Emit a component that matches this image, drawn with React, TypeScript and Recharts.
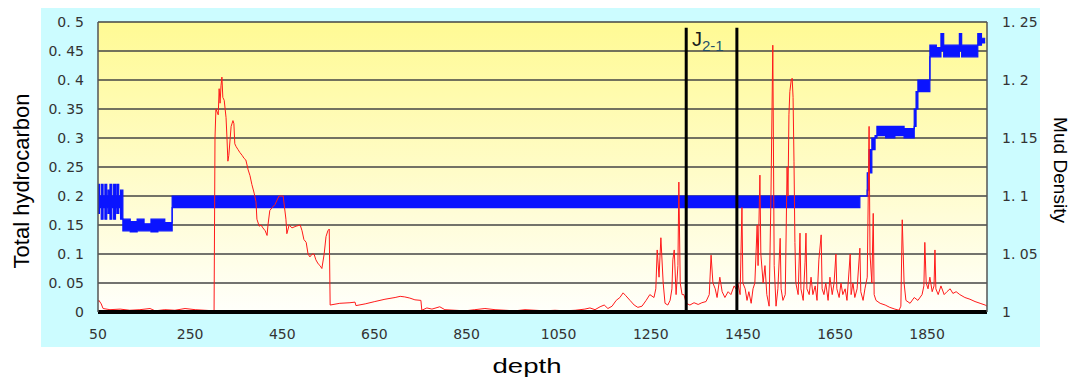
import { ComposedChart, Line, Area, XAxis, YAxis, CartesianGrid, ReferenceLine } from 'recharts';

// depth axis
const depthTicks = [50, 250, 450, 650, 850, 1050, 1250, 1450, 1650, 1850];
const hcTicks = [0, 0.05, 0.1, 0.15, 0.2, 0.25, 0.3, 0.35, 0.4, 0.45, 0.5];
const mdTicks = [1, 1.05, 1.1, 1.15, 1.2, 1.25];

// J2-1 formation boundaries (depth)
const boundaryDepths = [1327, 1437];

// total hydrocarbon readings: [depth, value]
const hydrocarbon: [number, number][] = [
  [50, 0.018], [52, 0.02], [57, 0.014], [61, 0.006], [76, 0.004], [98, 0.005], [119, 0.003], [141, 0.004],
  [163, 0.006], [174, 0.002], [195, 0.004], [217, 0.003], [239, 0.006], [261, 0.004], [282, 0.003], [302, 0.002],
  [304, 0.3], [306, 0.35], [311, 0.34], [313, 0.385], [315, 0.36], [317, 0.39], [319, 0.405], [321, 0.37],
  [324, 0.365], [326, 0.35], [328, 0.335], [330, 0.3], [332, 0.26], [334, 0.27], [337, 0.3], [339, 0.32],
  [343, 0.33], [345, 0.325], [347, 0.29], [350, 0.285], [354, 0.28], [358, 0.275], [363, 0.27], [367, 0.265],
  [371, 0.262], [376, 0.245], [380, 0.235], [384, 0.22], [389, 0.205], [393, 0.19], [395, 0.16], [400, 0.148],
  [404, 0.15], [408, 0.145], [413, 0.14], [417, 0.132], [419, 0.15], [423, 0.175], [428, 0.18], [434, 0.185],
  [443, 0.2], [452, 0.2], [458, 0.16], [460, 0.135], [465, 0.15], [471, 0.145], [480, 0.148], [489, 0.15],
  [493, 0.14], [497, 0.125], [502, 0.12], [506, 0.1], [510, 0.095], [515, 0.1], [519, 0.1], [523, 0.09],
  [528, 0.083], [532, 0.08], [536, 0.075], [541, 0.1], [545, 0.13], [549, 0.14], [552, 0.143],
  [554, 0.012], [575, 0.015], [597, 0.016], [608, 0.017], [610, 0.011], [630, 0.014], [651, 0.018], [673, 0.022],
  [695, 0.025], [706, 0.027], [716, 0.026], [727, 0.024], [738, 0.021], [751, 0.02], [753, 0.003], [764, 0.007],
  [775, 0.005], [792, 0.009], [803, 0.004], [825, 0.003], [847, 0.002], [868, 0.004], [890, 0.006], [912, 0.004],
  [934, 0.003], [955, 0.002], [977, 0.004], [999, 0.003], [1020, 0.002], [1042, 0.003], [1064, 0.002], [1086, 0.003],
  [1107, 0.005], [1118, 0.007], [1129, 0.004], [1140, 0.009], [1149, 0.012], [1157, 0.006], [1166, 0.01], [1175, 0.02],
  [1183, 0.025], [1190, 0.033], [1196, 0.028], [1205, 0.02], [1214, 0.012], [1222, 0.008], [1231, 0.01], [1240, 0.02],
  [1248, 0.03], [1257, 0.025], [1261, 0.04], [1264, 0.107], [1268, 0.06], [1272, 0.128], [1277, 0.05], [1281, 0.015],
  [1287, 0.012], [1292, 0.02], [1296, 0.04], [1298, 0.09], [1301, 0.107], [1305, 0.03], [1309, 0.08], [1311, 0.224],
  [1314, 0.05], [1318, 0.03], [1322, 0.03], [1327, 0.015], [1335, 0.012], [1344, 0.016], [1353, 0.013], [1361, 0.016],
  [1370, 0.018], [1377, 0.03], [1381, 0.098], [1385, 0.05], [1390, 0.04], [1394, 0.025], [1400, 0.06], [1405, 0.035],
  [1411, 0.025], [1418, 0.035], [1424, 0.03], [1431, 0.045], [1435, 0.04], [1439, 0.05], [1444, 0.03], [1448, 0.18],
  [1450, 0.05], [1455, 0.04], [1459, 0.02], [1463, 0.035], [1468, 0.015], [1472, 0.04], [1476, 0.05], [1481, 0.15],
  [1483, 0.08], [1487, 0.236], [1489, 0.1], [1494, 0.05], [1498, 0.08], [1502, 0.03], [1507, 0.01], [1511, 0.2],
  [1515, 0.46], [1518, 0.08], [1522, 0.01], [1526, 0.04], [1531, 0.127], [1533, 0.04], [1537, 0.02], [1542, 0.03],
  [1546, 0.25], [1548, 0.2], [1550, 0.34], [1552, 0.38], [1555, 0.4], [1557, 0.403], [1559, 0.37], [1561, 0.26],
  [1563, 0.12], [1565, 0.05], [1570, 0.03], [1574, 0.136], [1576, 0.04], [1581, 0.02], [1585, 0.086], [1587, 0.136],
  [1589, 0.04], [1594, 0.03], [1598, 0.06], [1602, 0.03], [1607, 0.045], [1611, 0.02], [1615, 0.09], [1620, 0.133],
  [1622, 0.04], [1626, 0.03], [1630, 0.05], [1635, 0.02], [1639, 0.06], [1644, 0.03], [1648, 0.05], [1652, 0.1],
  [1654, 0.04], [1659, 0.025], [1663, 0.05], [1667, 0.03], [1672, 0.04], [1676, 0.02], [1683, 0.1], [1685, 0.03],
  [1689, 0.05], [1693, 0.025], [1698, 0.04], [1704, 0.11], [1706, 0.035], [1711, 0.02], [1715, 0.04], [1720, 0.06],
  [1724, 0.32], [1726, 0.1], [1730, 0.05], [1733, 0.17], [1735, 0.03], [1739, 0.02], [1748, 0.015], [1759, 0.012],
  [1769, 0.008], [1780, 0.005], [1789, 0.003], [1793, 0.01], [1796, 0.159], [1800, 0.05], [1804, 0.02], [1813, 0.015],
  [1822, 0.025], [1830, 0.02], [1839, 0.03], [1843, 0.045], [1845, 0.12], [1848, 0.05], [1852, 0.04], [1856, 0.06],
  [1861, 0.035], [1865, 0.045], [1867, 0.107], [1869, 0.04], [1874, 0.03], [1880, 0.045], [1887, 0.03], [1893, 0.035],
  [1900, 0.04], [1906, 0.032], [1913, 0.035], [1921, 0.03], [1932, 0.025], [1943, 0.022], [1954, 0.018], [1965, 0.015],
  [1976, 0.012], [1980, 0.01],
];

// mud density band: [depth, low, high]
const mudDensity: [number, number, number][] = [
  [50, 1.085, 1.11], [53, 1.09, 1.1], [57, 1.08, 1.11], [61, 1.09, 1.1], [65, 1.08, 1.11], [69, 1.09, 1.1],
  [72, 1.085, 1.105], [76, 1.08, 1.11], [80, 1.09, 1.1], [84, 1.08, 1.11], [88, 1.09, 1.1], [91, 1.085, 1.11],
  [95, 1.09, 1.1], [99, 1.08, 1.105], [104, 1.07, 1.08], [120, 1.069, 1.078], [135, 1.07, 1.08], [150, 1.07, 1.076],
  [165, 1.069, 1.08], [180, 1.07, 1.08], [195, 1.07, 1.077], [211, 1.09, 1.1], [600, 1.09, 1.1], [1000, 1.09, 1.1],
  [1400, 1.09, 1.1], [1704, 1.1, 1.1], [1720, 1.105, 1.12], [1724, 1.12, 1.14], [1730, 1.14, 1.15], [1737, 1.15, 1.152],
  [1741, 1.152, 1.16], [1760, 1.15, 1.16], [1780, 1.152, 1.16], [1800, 1.15, 1.158], [1822, 1.16, 1.175],
  [1826, 1.175, 1.19], [1830, 1.19, 1.2], [1856, 1.22, 1.23], [1870, 1.22, 1.228], [1880, 1.225, 1.24],
  [1886, 1.22, 1.23], [1920, 1.225, 1.24], [1925, 1.22, 1.23], [1960, 1.23, 1.24], [1968, 1.232, 1.236],
  [1976, 1.232, 1.236],
];

const hcData = hydrocarbon.map(([depth, value]) => ({ depth, value }));
const mdData = mudDensity.map(([depth, lo, hi]) => ({ depth, range: [lo, hi] }));

const fmt = (v: number) => String(v).replace('.', '. ');
const tickStyle = { fontFamily: 'DejaVu Sans', fontSize: 14, fill: '#333' };

export default function App() {
  return (
    <div style={{ position: 'absolute', left: 0, top: 0, width: 1072, height: 379, background: '#fff', overflow: 'hidden' }}>
      <div style={{ position: 'absolute', left: 41, top: 8, width: 999, height: 339, background: '#ccfcff' }} />
      <ComposedChart
        width={1072}
        height={379}
        margin={{ top: 22, right: 0, bottom: 0, left: 0 }}
        style={{ position: 'absolute', left: 0, top: 0 }}
      >
        <defs>
          <linearGradient id="plotBg" x1="0" y1="0" x2="0" y2="1">
            <stop offset="0%" stopColor="#fffa94" />
            <stop offset="50%" stopColor="#fffcc6" />
            <stop offset="100%" stopColor="#fffffb" />
          </linearGradient>
        </defs>
        <CartesianGrid
          yAxisId="hc"
          vertical={false}
          stroke="#444"
          strokeWidth={1.5}
          fill="url(#plotBg)"
          fillOpacity={1}
        />
        <XAxis
          dataKey="depth"
          type="number"
          domain={[50, 1980]}
          ticks={depthTicks}
          allowDataOverflow
          height={67}
          axisLine={{ stroke: '#000', strokeWidth: 4 }}
          tickLine={false}
          tickSize={0}
          tickMargin={17}
          tick={tickStyle}
        />
        <YAxis
          yAxisId="hc"
          orientation="left"
          width={98}
          domain={[0, 0.5]}
          ticks={hcTicks}
          tickFormatter={fmt}
          axisLine={{ stroke: '#555', strokeWidth: 1.5 }}
          tickLine={false}
          tickSize={0}
          tickMargin={14}
          tick={tickStyle}
        />
        <YAxis
          yAxisId="md"
          orientation="right"
          width={85}
          domain={[1, 1.25]}
          ticks={mdTicks}
          tickFormatter={fmt}
          axisLine={{ stroke: '#555', strokeWidth: 1.5 }}
          tickLine={false}
          tickSize={0}
          tickMargin={15}
          tick={{ ...tickStyle, textAnchor: 'start' }}
        />
        <Area
          yAxisId="md"
          data={mdData}
          dataKey="range"
          type="stepAfter"
          stroke="#0a14ff"
          strokeWidth={1.2}
          fill="#0a14ff"
          fillOpacity={1}
          isAnimationActive={false}
          dot={false}
          activeDot={false}
        />
        <Line
          yAxisId="hc"
          data={hcData}
          dataKey="value"
          type="linear"
          stroke="#ff1a1a"
          strokeWidth={1}
          dot={false}
          activeDot={false}
          isAnimationActive={false}
        />
        {boundaryDepths.map((d) => (
          <ReferenceLine
            key={d}
            yAxisId="hc"
            segment={[{ x: d, y: 0 }, { x: d, y: 0.49 }]}
            stroke="#000"
            strokeWidth={3}
          />
        ))}
      </ComposedChart>
      <svg width={1072} height={379} style={{ position: 'absolute', left: 0, top: 0, pointerEvents: 'none' }}>
        <text x={692} y={46} fontFamily="Liberation Sans" fontSize={20} fill="#1a1a1a">
          J
          <tspan fontSize={15} dy={5} fill="#23506a">2-1</tspan>
        </text>
        <text
          x={28.5}
          y={181}
          transform="rotate(-90 28.5 181)"
          textAnchor="middle"
          fontFamily="Liberation Sans"
          fontSize={22}
          fill="#000"
        >
          Total hydrocarbon
        </text>
        <text
          x={1054}
          y={170}
          transform="rotate(90 1054 170)"
          textAnchor="middle"
          fontFamily="Liberation Sans"
          fontSize={19}
          fill="#000"
          textLength={106}
          lengthAdjust="spacingAndGlyphs"
        >
          Mud Density
        </text>
        <text
          x={527}
          y={373}
          textAnchor="middle"
          fontFamily="Liberation Sans"
          fontSize={21}
          fill="#000"
          textLength={69}
          lengthAdjust="spacingAndGlyphs"
        >
          depth
        </text>
      </svg>
    </div>
  );
}
